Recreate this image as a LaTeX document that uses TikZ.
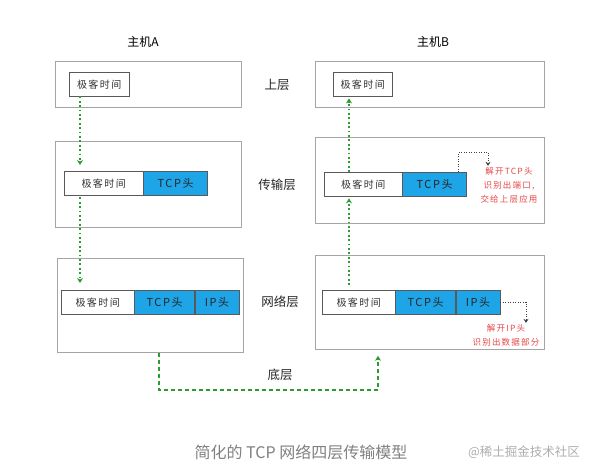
\documentclass[tikz,border=0pt]{standalone}
\usepackage{fontspec}
\setmainfont{Noto Sans CJK SC}
\newfontfamily\handfont[LetterSpace=14]{Noto Sans CJK SC}
\usetikzlibrary{positioning, arrows.meta}
\definecolor{HeadBlue}{RGB}{30, 165, 232}
\definecolor{FlowGreen}{RGB}{45, 155, 45}
\definecolor{NoteRed}{RGB}{232, 70, 70}
\definecolor{FrameGray}{RGB}{165, 165, 165}

\begin{document}
\begin{tikzpicture}[x=1pt, y=-1pt,
    layerbox/.style={draw=FrameGray, thick, anchor=north west, inner sep=0pt},
    databox/.style={draw=black!65, fill=white, minimum height=24pt, inner sep=0pt, text=black!80, font=\handfont\fontsize{10}{12}\selectfont},
    headbox/.style={databox, fill=HeadBlue, text=black!85, font=\handfont\fontsize{11}{12}\selectfont},
    flow/.style={draw=FlowGreen, line width=1.8pt, dash pattern=on 1.8pt off 2.6pt, -{Stealth[length=5pt, width=6pt]}},
    wire/.style={draw=FlowGreen, line width=1.8pt, dash pattern=on 4pt off 3pt, -{Stealth[length=5pt, width=6pt]}},
    hint/.style={draw=black!75, thick, dash pattern=on 1pt off 1.5pt, -{Stealth[length=4pt, width=5pt]}},
    note/.style={NoteRed, align=center, inner sep=1pt, font=\handfont\fontsize{8.5}{14}\selectfont},
    layer/.style={font=\fontsize{12.5}{14}\selectfont, text=black!85}]
    \useasboundingbox (0,0) rectangle (594,475);

    % Hosts
    \node[font=\fontsize{12}{14}\selectfont] (hostA) at (143,42) {主机A};
    \node[font=\fontsize{12}{14}\selectfont] (hostB) at (433,42) {主机B};

    % Layer frames
    \node[layerbox, minimum width=186pt, minimum height=46pt] (A1) at (55,61) {};
    \node[layerbox, minimum width=186pt, minimum height=86pt] (A2) at (55,141) {};
    \node[layerbox, minimum width=186pt, minimum height=94pt] (A3) at (57,258) {};
    \node[layerbox, minimum width=229pt, minimum height=46pt] (B1) at (315,61) {};
    \node[layerbox, minimum width=229pt, minimum height=86pt] (B2) at (315,137) {};
    \node[layerbox, minimum width=229pt, minimum height=94pt] (B3) at (315,255) {};

    % Layer names
    \foreach \name/\x/\y in {上层/277/85, 传输层/277/185, 网络层/280/302, 底层/280/375}
      \node[layer] at (\x,\y) {\name};

    % Packets of host A
    \node[databox, minimum width=60pt, anchor=north west] (a1) at (69,72) {极客时间};
    \node[databox, minimum width=79pt, anchor=north west] (a2d) at (64,171) {极客时间};
    \node[headbox, minimum width=64pt, anchor=west] (a2t) at (a2d.east) {TCP头};
    \node[databox, minimum width=73pt, anchor=north west] (a3d) at (61,290) {极客时间};
    \node[headbox, minimum width=60pt, anchor=west] (a3t) at (a3d.east) {TCP头};
    \node[headbox, minimum width=44pt, anchor=west] (a3i) at (a3t.east) {IP头};

    % Packets of host B
    \node[databox, minimum width=59pt, anchor=north west] (b1) at (333,72) {极客时间};
    \node[databox, minimum width=78pt, anchor=north west] (b2d) at (324,172) {极客时间};
    \node[headbox, minimum width=64pt, anchor=west] (b2t) at (b2d.east) {TCP头};
    \node[databox, minimum width=73pt, anchor=north west] (b3d) at (322,290) {极客时间};
    \node[headbox, minimum width=60pt, anchor=west] (b3t) at (b3d.east) {TCP头};
    \node[headbox, minimum width=44pt, anchor=west] (b3i) at (b3t.east) {IP头};

    % Notes
    \node[note] (b2n) at (509,185) {解开TCP头\\识别出端口,\\交给上层应用};
    \node[note] (b3n) at (506,335) {解开IP头\\识别出数据部分};
    \draw[hint] ([xshift=-8pt]b2t.north east) -- ++(0,-20) -| ([xshift=-21pt]b2n.north);
    \draw[hint] (b3i.east) -| ([xshift=20pt]b3n.north);

    % Flow down through host A
    \coordinate (ax) at (80,0);
    \draw[flow] (a1.south -| ax) -- ([yshift=6pt]a2d.north -| ax);
    \draw[flow] ([yshift=-2pt]a2d.south -| ax) -- ([yshift=7pt]a3d.north -| ax);

    % Bottom link
    \coordinate (lx) at (159,390);
    \coordinate (rx) at (378,390);
    \draw[wire] (A3.south -| lx) -- (lx) -- (rx) -- ([yshift=-6pt]B3.south -| rx);

    % Flow up through host B
    \coordinate (bx) at (349,0);
    \draw[flow] ([yshift=5pt]b3d.north -| bx) -- ([yshift=-2pt]b2d.south -| bx);
    \draw[flow] (b2d.north -| bx) -- ([yshift=-2pt]b1.south -| bx);

    % Caption
    \node[text=black!50, font=\fontsize{16}{18}\selectfont] (caption) at (301,452) {简化的 TCP 网络四层传输模型};
    \node[text=black!32, font=\fontsize{12.5}{14}\selectfont] (mark) at (524,452) {@稀土掘金技术社区};
\end{tikzpicture}
\end{document}
